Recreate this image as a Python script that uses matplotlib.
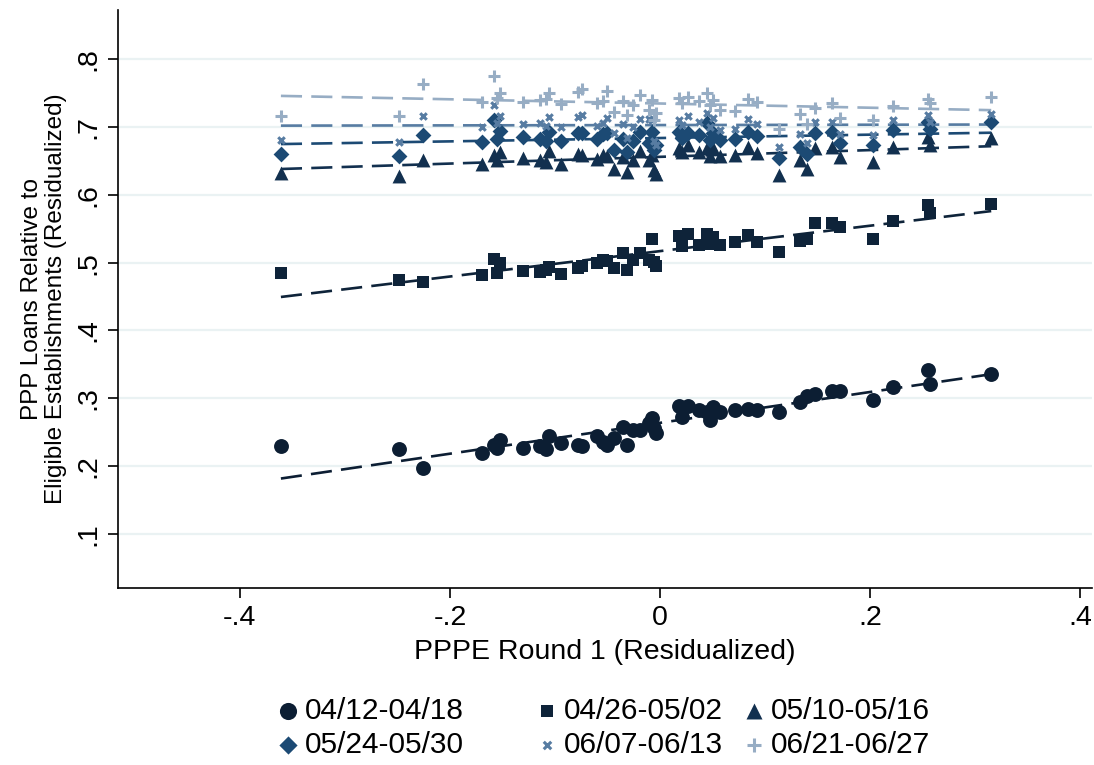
import numpy as np
import matplotlib
matplotlib.use("Agg")
import matplotlib.pyplot as plt

# PPPE round 1 (residualized), one value per state
pppe = np.array([281, 399, 423, 482, 494, 497, 500, 523, 540, 546, 549, 561, 578, 582,
                 597, 603, 607, 614, 623, 627, 633, 640, 649, 652, 654, 656, 679, 682,
                 688, 699, 707, 710, 713, 720, 735, 748, 757, 779, 800, 807, 815, 832,
                 840, 873, 893, 928, 930, 991])
pppe = (pppe - 660) / 1050.0

wk_0412 = [0.230, 0.225, 0.197, 0.219, 0.231, 0.227, 0.239, 0.226, 0.230, 0.225, 0.244, 0.234,
           0.231, 0.229, 0.245, 0.236, 0.231, 0.242, 0.258, 0.231, 0.253, 0.253, 0.264, 0.271,
           0.256, 0.249, 0.289, 0.273, 0.288, 0.283, 0.280, 0.268, 0.287, 0.280, 0.283, 0.284,
           0.283, 0.280, 0.294, 0.303, 0.306, 0.311, 0.310, 0.298, 0.316, 0.342, 0.321, 0.336]
wk_0426 = [0.485, 0.475, 0.472, 0.482, 0.506, 0.485, 0.499, 0.488, 0.487, 0.489, 0.494, 0.483,
           0.492, 0.495, 0.500, 0.504, 0.502, 0.492, 0.514, 0.489, 0.504, 0.515, 0.504, 0.535,
           0.501, 0.495, 0.540, 0.525, 0.542, 0.526, 0.542, 0.528, 0.538, 0.526, 0.531, 0.541,
           0.531, 0.516, 0.532, 0.535, 0.558, 0.558, 0.552, 0.535, 0.562, 0.585, 0.573, 0.586]
wk_0510 = [0.633, 0.628, 0.652, 0.645, 0.659, 0.652, 0.663, 0.655, 0.652, 0.649, 0.665, 0.645,
           0.660, 0.659, 0.653, 0.659, 0.658, 0.638, 0.656, 0.634, 0.652, 0.665, 0.652, 0.659,
           0.637, 0.631, 0.669, 0.663, 0.674, 0.664, 0.669, 0.658, 0.669, 0.658, 0.659, 0.671,
           0.662, 0.630, 0.652, 0.638, 0.669, 0.671, 0.656, 0.649, 0.671, 0.686, 0.674, 0.684]
wk_0524 = [0.660, 0.658, 0.688, 0.678, 0.711, 0.682, 0.694, 0.685, 0.682, 0.679, 0.693, 0.679,
           0.691, 0.692, 0.682, 0.690, 0.692, 0.666, 0.682, 0.664, 0.680, 0.693, 0.676, 0.693,
           0.666, 0.674, 0.693, 0.684, 0.691, 0.688, 0.706, 0.681, 0.691, 0.681, 0.682, 0.693,
           0.687, 0.654, 0.671, 0.660, 0.692, 0.693, 0.676, 0.673, 0.696, 0.708, 0.698, 0.708]
wk_0607 = [0.681, 0.678, 0.717, 0.700, 0.733, 0.706, 0.717, 0.705, 0.706, 0.702, 0.715, 0.700,
           0.715, 0.718, 0.702, 0.706, 0.713, 0.691, 0.705, 0.684, 0.700, 0.712, 0.712, 0.711,
           0.679, 0.674, 0.710, 0.703, 0.717, 0.707, 0.721, 0.700, 0.714, 0.696, 0.697, 0.712,
           0.705, 0.671, 0.690, 0.677, 0.707, 0.708, 0.690, 0.688, 0.710, 0.718, 0.708, 0.720]
wk_0621 = [0.717, 0.717, 0.764, 0.737, 0.776, 0.743, 0.751, 0.737, 0.740, 0.741, 0.751, 0.734,
           0.752, 0.757, 0.736, 0.738, 0.754, 0.723, 0.738, 0.718, 0.733, 0.747, 0.726, 0.740,
           0.711, 0.721, 0.743, 0.736, 0.744, 0.738, 0.750, 0.733, 0.740, 0.725, 0.724, 0.741,
           0.737, 0.698, 0.719, 0.704, 0.728, 0.736, 0.713, 0.710, 0.731, 0.741, 0.735, 0.744]

weeks = ["04/12-04/18", "04/26-05/02", "05/10-05/16",
         "05/24-05/30", "06/07-06/13", "06/21-06/27"]
series = [wk_0412, wk_0426, wk_0510, wk_0524, wk_0607, wk_0621]
colors = ["#0c1e33", "#0e2339", "#12304f", "#1c4a74", "#577ca2", "#97adc4"]
markers = ["o", "s", "^", "D", "x", "+"]
sizes = [115, 65, 100, 65, 22, 75]

plt.rcParams['font.family'] = ['Liberation Sans', 'DejaVu Sans']

fig = plt.figure(figsize=(10.94, 7.65), dpi=100)
ax = fig.add_axes([0.1079, 0.2314, 0.8901, 0.7556])

for y in np.arange(0.1, 0.85, 0.1):
    ax.axhline(y, color="#eaf2f3", lw=1.6, zorder=0)

handles = []
xs = np.array([pppe.min(), pppe.max()])
for vals, c, m, s, lab in zip(series, colors, markers, sizes, weeks):
    vals = np.array(vals)
    lw = 2.2 if m in ("x", "+") else 0
    h = ax.scatter(pppe, vals, marker=m, s=s, color=c, linewidths=lw, zorder=3, label=lab)
    handles.append(h)
    # linear fit for each week
    b, a = np.polyfit(pppe, vals, 1)
    ax.plot(xs, a + b * xs, color=c, lw=1.9, ls=(0, (8, 3.5)), zorder=2)

ax.set_xlim(-0.516, 0.411)
ax.set_ylim(0.02, 0.873)
ax.set_xticks([-0.4, -0.2, 0, 0.2, 0.4])
ax.set_xticklabels(["-.4", "-.2", "0", ".2", ".4"])
ax.set_yticks(np.round(np.arange(0.1, 0.85, 0.1), 1))
ax.set_yticklabels([".1", ".2", ".3", ".4", ".5", ".6", ".7", ".8"], rotation=90, va="center")
ax.tick_params(labelsize=20.5, length=7, width=1.2, direction="out", pad=5)
for side in ("top", "right"):
    ax.spines[side].set_visible(False)
for side in ("left", "bottom"):
    ax.spines[side].set_linewidth(1.2)

ax.set_xlabel("PPPE Round 1 (Residualized)", fontsize=20.5, labelpad=6)
ax.set_ylabel("PPP Loans Relative to\nEligible Establishments (Residualized)", fontsize=17.5,
              labelpad=6, linespacing=1.1)

# legend: three columns of two entries each
col_x = [0.2537, 0.4904, 0.6796]
for k, x0 in enumerate(col_x):
    idx = [k, k + 3]
    leg = fig.legend([handles[i] for i in idx], [weeks[i] for i in idx],
                     loc="center left", bbox_to_anchor=(x0, 0.0484), frameon=False,
                     fontsize=21.5, handletextpad=0.22, labelspacing=0.2,
                     handlelength=0.7, borderpad=0, borderaxespad=0, markerscale=1.15)

fig.savefig("out.png", dpi=100)
